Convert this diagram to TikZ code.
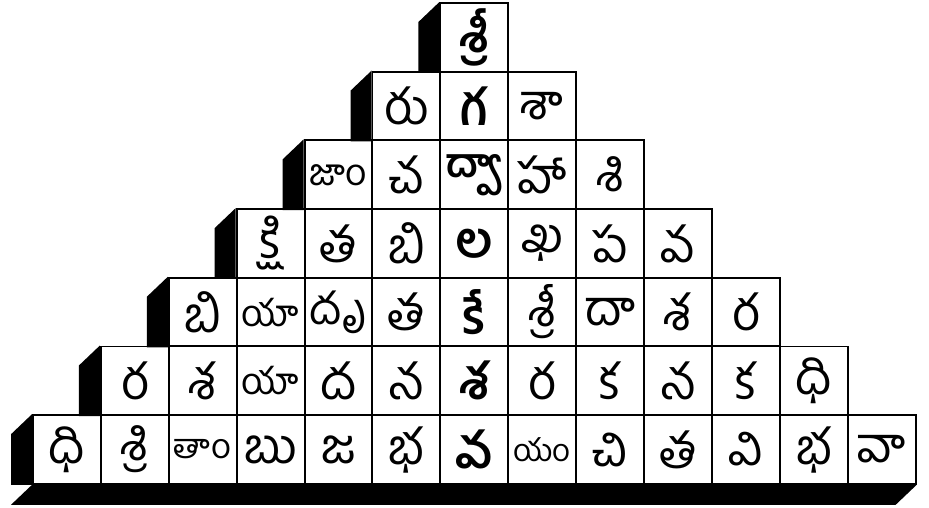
\documentclass[tikz,border=0pt]{standalone}
\usepackage{fontspec}
\newfontfamily\telugu[Script=Telugu]{Hind Guntur}
\usetikzlibrary{positioning}

\newcommand{\fitglyph}[1]{\sbox0{#1}%
  \ifdim\wd0>1.15cm\resizebox{1.15cm}{!}{\usebox0}\else\usebox0\fi}

\tikzset{
  cell/.style={draw, line width=1.1pt, anchor=north west, inner sep=0pt,
    minimum width=1.358cm, minimum height=1.374cm,
    font=\telugu\fontsize{28}{32}\selectfont},
  side/.style={fill=black}
}

\begin{document}
\begin{tikzpicture}[x=0.02cm, y=-0.02cm]
  \useasboundingbox (0,0) rectangle (929,507);

  \foreach \r/\letters in {1/{శ్రీ},
      2/{రు,గ,శా},
      3/{జాం,చ,ద్వా,హా,శి},
      4/{క్షి,త,బి,ల,ఖ,ప,వ},
      5/{బి,యా,దృ,త,కే,శ్రీ,దా,శ,ర},
      6/{ర,శ,యా,ద,న,శ,ర,క,న,క,ధి},
      7/{ధి,శ్రి,తాం,బు,జ,భ,వ,యం,చి,త,వి,భ,వా}} {
    \foreach \t [count=\c] in \letters {
      \pgfmathsetmacro{\px}{32+(6-\r+\c)*67.9}
      \pgfmathsetmacro{\py}{2+(\r-1)*68.7}
      \node[cell] (r\r c\c) at (\px,\py) {\fitglyph{\ifnum\c=\r\bfseries\fi\t}};
    }
    \fill[side] (r\r c1.north west) -- ++(-21,20) |- (r\r c1.south west) -- cycle;
  }

  \coordinate (bl) at ([shift={(-21,20)}]r7c1.south west);
  \fill[side] (r7c1.south west) -- (r7c13.south east) -- ++(-21,20) -- (bl) -- cycle;
\end{tikzpicture}
\end{document}
